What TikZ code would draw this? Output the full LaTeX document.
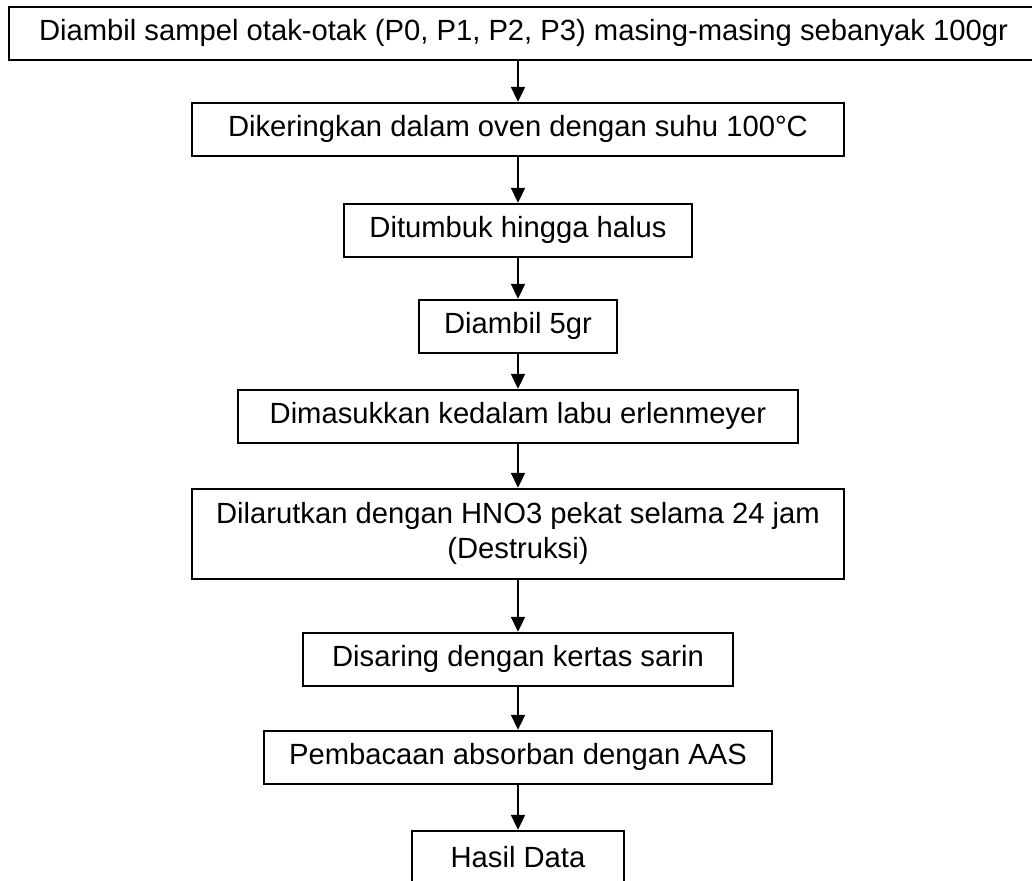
\documentclass[tikz,border=0pt]{standalone}
\usepackage{fontspec}
\setmainfont{Liberation Sans}
\usetikzlibrary{arrows.meta,matrix}

\begin{document}
\begin{tikzpicture}[thick, every node/.style={font=\fontsize{14.6pt}{17.5pt}\selectfont}]
	\tikzstyle{block} = [rectangle, draw=black, line width=1pt, text centered, align=center, inner sep=2pt, minimum height=26.5pt]
	\tikzstyle{line} = [draw, line width=1pt, -{Triangle[length=7.5pt,width=7pt]}];
	\useasboundingbox (0,0) rectangle (516pt,-440.5pt);
	\matrix (flow) [anchor=north, inner sep=0pt, row sep=17.5pt] at (261.75pt,-2.5pt)
	{
	% row 1
	\node [block, minimum width=514.5pt, xshift=2.75pt] (ambil) {Diambil sampel otak-otak (P0, P1, P2, P3) masing-masing sebanyak 100gr}; \\[3pt]
	% row 2
	\node [block, minimum width=325.5pt] (kering) {Dikeringkan dalam oven dengan suhu 100°C}; \\[5.5pt]
	% row 3
	\node [block, minimum width=174pt] (tumbuk) {Ditumbuk hingga halus}; \\[3pt]
	% row 4
	\node [block, minimum width=99pt] (timbang) {Diambil 5gr}; \\
	% row 5
	\node [block, minimum width=280pt] (erlen) {Dimasukkan kedalam labu erlenmeyer}; \\[4.5pt]
	% row 6
	\node [block, minimum width=325.5pt, minimum height=45pt] (larut) {Dilarutkan dengan HNO3 pekat selama 24 jam\\(Destruksi)}; \\[8.5pt]
	% row 7
	\node [block, minimum width=215pt] (saring) {Disaring dengan kertas sarin}; \\[4pt]
	% row 8
	\node [block, minimum width=254pt] (baca) {Pembacaan absorban dengan AAS}; \\[5pt]
	% row 9
	\node [block, minimum width=106pt] (hasil) {Hasil Data}; \\
	};
	\tikzstyle{every path}=[line]
	\path (kering |- ambil.south) -- (kering);
	\path (kering) -- (tumbuk);
	\path (tumbuk) -- (timbang);
	\path (timbang) -- (erlen);
	\path (erlen) -- (larut);
	\path (larut) -- (saring);
	\path (saring) -- (baca);
	\path (baca) -- (hasil);
\end{tikzpicture}
\end{document}
